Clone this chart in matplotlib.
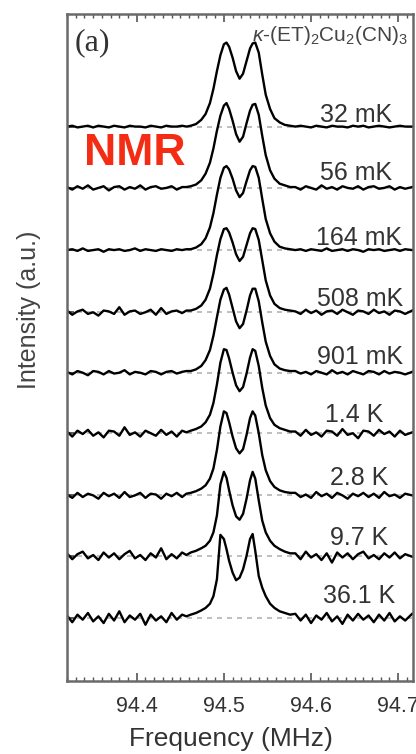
import matplotlib.pyplot as plt
from matplotlib.ticker import MultipleLocator

# frequency grid (MHz) shared by all spectra
freq = [94.320, 94.326, 94.332, 94.338, 94.344, 94.350, 94.356, 94.362, 94.368, 94.374,
        94.380, 94.386, 94.392, 94.398, 94.404, 94.410, 94.416, 94.422, 94.428, 94.434,
        94.440, 94.446, 94.452, 94.457,
        94.462, 94.468, 94.474, 94.479, 94.484, 94.488, 94.492, 94.496, 94.500, 94.503,
        94.506, 94.510, 94.514, 94.518, 94.522, 94.526, 94.530, 94.533, 94.536, 94.540,
        94.544, 94.548, 94.553, 94.558, 94.564, 94.570, 94.576,
        94.582, 94.588, 94.594, 94.600, 94.606, 94.612, 94.618, 94.624, 94.630, 94.636,
        94.642, 94.648, 94.654, 94.660, 94.666, 94.672, 94.678, 94.684, 94.690, 94.696,
        94.702, 94.708, 94.716]

temps = ['32 mK', '56 mK', '164 mK', '508 mK', '901 mK', '1.4 K', '2.8 K', '9.7 K', '36.1 K']
offsets = [5.85, 5.12, 4.38, 3.64, 2.92, 2.20, 1.46, 0.74, 0.0]

# label placement (right edge of text, height above baseline)
label_x = [94.693, 94.693, 94.704, 94.706, 94.706, 94.683, 94.689, 94.689, 94.697]
label_dy = [0.06, 0.10, 0.06, 0.08, 0.10, 0.13, 0.12, 0.13, 0.18]

# normalised intensities (peak = 1)
i_32mK = [0.00, 0.01, -0.01, 0.00, 0.01, -0.01, 0.01, 0.00, -0.01, 0.01, 0.00, -0.01,
          0.01, 0.00, 0.00, -0.01, 0.01, 0.00, -0.01, 0.01, 0.00, 0.00, 0.01, 0.00,
          0.01, 0.03, 0.08, 0.15, 0.28, 0.45, 0.66, 0.85, 0.98, 1.00, 0.95, 0.82, 0.66,
          0.57, 0.63, 0.78, 0.93, 0.99, 1.00, 0.88, 0.62, 0.38, 0.21, 0.10, 0.05, 0.02, 0.01,
          0.00, 0.01, 0.00, -0.01, 0.01, 0.00, -0.01, 0.01, 0.00, 0.00, -0.01, 0.01,
          0.00, 0.01, -0.01, 0.00, 0.01, 0.00, -0.01, 0.00, 0.01, 0.00, 0.00]
i_56mK = [0.01, -0.02, 0.02, -0.01, 0.03, -0.02, 0.00, 0.02, -0.03, 0.01, 0.02, -0.02,
          0.01, -0.01, 0.03, -0.02, 0.01, 0.02, -0.01, 0.00, 0.02, -0.02, 0.01, 0.01,
          0.02, 0.04, 0.09, 0.17, 0.30, 0.47, 0.68, 0.86, 0.98, 1.01, 0.94, 0.80, 0.64,
          0.55, 0.61, 0.77, 0.92, 0.99, 1.00, 0.87, 0.62, 0.39, 0.21, 0.11, 0.05, 0.03, 0.01,
          0.01, -0.02, 0.02, 0.00, -0.02, 0.03, -0.01, 0.01, -0.02, 0.02, 0.00, -0.01,
          0.02, -0.02, 0.01, 0.02, -0.01, 0.00, 0.02, -0.02, 0.01, -0.01, 0.01]
i_164mK = [0.00, 0.01, -0.01, 0.02, -0.01, 0.00, 0.01, -0.02, 0.01, 0.00, 0.01, -0.01,
           0.00, 0.02, -0.01, 0.01, 0.00, -0.01, 0.01, 0.00, -0.01, 0.01, 0.00, 0.01,
           0.01, 0.03, 0.07, 0.14, 0.27, 0.44, 0.66, 0.86, 0.98, 1.00, 0.96, 0.85, 0.71,
           0.63, 0.68, 0.82, 0.95, 1.00, 0.99, 0.86, 0.61, 0.37, 0.20, 0.10, 0.04, 0.02, 0.01,
           0.00, 0.01, -0.01, 0.01, 0.00, -0.01, 0.02, -0.01, 0.00, 0.01, -0.01, 0.01,
           0.00, -0.02, 0.01, 0.00, 0.01, -0.01, 0.00, 0.01, -0.01, 0.01, 0.00]
i_508mK = [0.02, -0.03, 0.01, 0.03, -0.02, 0.00, -0.04, 0.02, 0.01, -0.02, 0.06, -0.03,
           0.01, 0.02, -0.02, 0.00, 0.03, -0.03, 0.05, -0.02, 0.01, 0.02, -0.01, 0.02,
           0.02, 0.04, 0.08, 0.15, 0.28, 0.46, 0.68, 0.87, 0.99, 1.00, 0.95, 0.83, 0.69,
           0.61, 0.66, 0.80, 0.94, 1.00, 0.99, 0.86, 0.62, 0.38, 0.20, 0.10, 0.05, 0.03, 0.02,
           0.01, -0.02, 0.03, -0.01, 0.02, -0.03, 0.01, 0.02, -0.02, 0.03, 0.00, -0.03,
           0.02, 0.01, -0.02, 0.03, -0.01, 0.01, -0.03, 0.02, 0.01, -0.02, 0.02]
i_901mK = [0.01, -0.02, 0.02, 0.00, -0.03, 0.02, 0.01, -0.02, 0.02, -0.01, 0.00, 0.03,
           -0.02, 0.01, 0.00, -0.02, 0.02, 0.01, -0.02, 0.01, 0.02, -0.01, 0.01, 0.02,
           0.02, 0.04, 0.08, 0.15, 0.27, 0.44, 0.66, 0.87, 0.99, 1.01, 0.93, 0.77, 0.61,
           0.53, 0.58, 0.74, 0.92, 1.00, 1.00, 0.85, 0.60, 0.37, 0.20, 0.10, 0.05, 0.03, 0.02,
           0.02, -0.01, 0.01, -0.02, 0.02, 0.00, -0.02, 0.03, -0.01, 0.01, -0.02, 0.02,
           0.00, -0.02, 0.02, 0.01, -0.02, 0.02, -0.01, 0.01, 0.00, -0.02, 0.01]
i_1p4K = [0.02, -0.04, 0.03, -0.01, 0.04, -0.03, 0.01, -0.05, 0.03, 0.02, -0.03, 0.07,
          -0.02, 0.01, -0.04, 0.03, 0.00, -0.03, 0.04, -0.02, 0.02, -0.04, 0.03, 0.01,
          0.03, 0.05, 0.08, 0.13, 0.22, 0.36, 0.58, 0.84, 1.00, 0.99, 0.89, 0.72, 0.57,
          0.50, 0.55, 0.71, 0.90, 1.00, 0.98, 0.80, 0.54, 0.33, 0.18, 0.10, 0.06, 0.04, 0.02,
          0.02, -0.03, 0.04, -0.02, 0.01, -0.04, 0.03, 0.02, -0.03, 0.05, -0.02, 0.00,
          -0.06, 0.03, 0.02, -0.03, 0.04, -0.01, 0.02, -0.04, 0.03, -0.02, 0.01]
i_2p8K = [0.01, -0.03, 0.03, -0.02, 0.02, 0.00, -0.04, 0.03, -0.01, 0.02, -0.03, 0.04,
          -0.02, 0.00, 0.03, -0.03, 0.02, 0.01, -0.04, 0.02, -0.01, 0.03, -0.02, 0.02,
          0.03, 0.05, 0.08, 0.12, 0.20, 0.32, 0.54, 0.82, 1.00, 0.98, 0.87, 0.70, 0.56,
          0.50, 0.55, 0.72, 0.92, 1.00, 0.95, 0.74, 0.48, 0.30, 0.17, 0.10, 0.06, 0.04, 0.03,
          0.03, -0.02, 0.01, -0.03, 0.04, -0.01, 0.02, -0.03, 0.03, 0.00, -0.04, 0.02,
          -0.01, 0.03, -0.02, 0.02, -0.03, 0.04, -0.01, 0.01, -0.03, 0.02, 0.00]
i_9p7K = [0.03, -0.04, 0.02, 0.05, -0.03, 0.01, -0.05, 0.04, -0.02, 0.03, -0.04, 0.02,
          0.06, -0.03, 0.01, -0.05, 0.03, -0.02, 0.09, -0.04, 0.02, -0.03, 0.04, 0.01,
          0.04, 0.06, 0.09, 0.12, 0.18, 0.28, 0.48, 0.85, 1.00, 0.93, 0.78, 0.60, 0.47,
          0.43, 0.50, 0.68, 0.90, 1.00, 0.92, 0.66, 0.42, 0.28, 0.18, 0.12, 0.08, 0.05, 0.03,
          0.03, -0.04, 0.05, -0.02, 0.02, -0.05, 0.03, -0.08, 0.04, -0.02, 0.03, -0.04,
          0.02, 0.05, -0.03, 0.01, -0.04, 0.03, -0.02, 0.04, -0.03, 0.02, -0.01]
i_36p1K = [0.03, -0.05, 0.04, -0.02, 0.06, -0.04, 0.02, -0.06, 0.05, -0.03, 0.08, -0.05,
           0.03, -0.02, 0.05, -0.08, 0.04, -0.03, 0.02, -0.05, 0.06, -0.02, 0.04, 0.02,
           0.04, 0.06, 0.09, 0.12, 0.17, 0.26, 0.46, 0.99, 0.94, 0.82, 0.68, 0.54, 0.45,
           0.48, 0.58, 0.74, 0.94, 1.00, 0.80, 0.50, 0.36, 0.26, 0.17, 0.12, 0.08, 0.06, 0.04,
           0.05, -0.03, 0.04, -0.06, 0.03, -0.02, 0.06, -0.04, 0.02, -0.07, 0.04, -0.03,
           0.05, -0.02, 0.03, -0.05, 0.04, -0.03, 0.06, -0.04, 0.02, -0.03, 0.05]

spectra = [i_32mK, i_56mK, i_164mK, i_508mK, i_901mK, i_1p4K, i_2p8K, i_9p7K, i_36p1K]

plt.rcParams['font.family'] = ['Liberation Sans', 'DejaVu Sans']
plt.rcParams['mathtext.fontset'] = 'custom'
plt.rcParams['mathtext.rm'] = 'Liberation Sans'
plt.rcParams['mathtext.it'] = 'Liberation Sans:italic'

fig = plt.figure(figsize=(4.16, 7.54), dpi=100)
ax = fig.add_axes([0.1611, 0.0968, 0.8317, 0.8846])

for i, spec in enumerate(spectra):
    off = offsets[i]
    ax.axhline(off, color='#b4b4b4', lw=1.2, ls=(0, (3, 3)), zorder=1)
    ax.plot(freq, [v + off for v in spec], color='black', lw=1.7, zorder=2)
    ax.text(label_x[i], off + label_dy[i], temps[i], ha='right', va='baseline',
            fontsize=18, color='#333333')

ax.set_xlim(94.32, 94.717)
ax.set_ylim(-0.75, 7.19)
ax.set_xticks([94.4, 94.5, 94.6, 94.7])
ax.set_xticklabels(['94.4', '94.5', '94.6', '94.7'])
ax.xaxis.set_minor_locator(MultipleLocator(0.01))
ax.set_yticks(offsets)
ax.set_yticklabels([])
ax.tick_params(axis='x', which='both', direction='in', top=True, colors='#555555',
               labelcolor='#333333', labelsize=15.5, pad=11)
ax.tick_params(axis='x', which='major', length=6, width=1.2)
ax.tick_params(axis='x', which='minor', length=3, width=1.0)
ax.tick_params(axis='y', direction='in', length=5, width=1.2, colors='#444444')
for sp in ax.spines.values():
    sp.set_color('#6a6a6a')
    sp.set_linewidth(1.8)

ax.set_xlabel('Frequency (MHz)', fontsize=19, color='#333333')
ax.xaxis.set_label_coords(0.474, -0.069)
ax.set_ylabel('Intensity (a.u.)', fontsize=18, color='#444444')
ax.yaxis.set_label_coords(-0.075, 0.556)

ax.text(0.023, 0.978, '(a)', transform=ax.transAxes, ha='left', va='top',
        fontsize=23, family='Liberation Serif', color='#333333')
ax.text(0.985, 0.968, r'$\kappa$-(ET)$_2$Cu$_2$(CN)$_3$', transform=ax.transAxes,
        ha='right', va='center', fontsize=15, color='#444444')
fig.text(0.3245, 0.797, 'NMR', ha='center', va='center', fontsize=32,
         fontweight='bold', color='#f42c14')

fig.savefig('out.png', dpi=100)
